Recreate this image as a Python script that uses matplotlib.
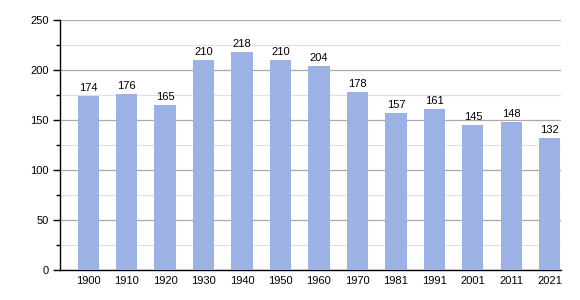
import matplotlib.pyplot as plt
from matplotlib.ticker import MultipleLocator

# Daten aus dem Bild
jahre = ["1900", "1910", "1920", "1930", "1940", "1950", "1960",
         "1970", "1981", "1991", "2001", "2011", "2021"]
einwohner = [174, 176, 165, 210, 218, 210, 204, 178, 157, 161, 145, 148, 132]

plt.rcParams["font.family"] = ["Liberation Sans", "DejaVu Sans"]

fig = plt.figure(figsize=(5.8, 3.0), dpi=100)
ax = fig.add_axes([60 / 580, 30 / 300, 501 / 580, 250 / 300])

x = range(len(jahre))
balken = ax.bar(x, einwohner, width=0.55, color="#9db2e4", zorder=3)

for xi, wert in zip(x, einwohner):
    ax.text(xi, wert + 3, str(wert), ha="center", va="bottom", fontsize=8, zorder=4)

ax.set_xlim(-0.73, 12.29)
ax.set_ylim(0, 250)
ax.set_xticks(list(x))
ax.set_xticklabels(jahre, fontsize=8)
ax.tick_params(axis="x", length=0, pad=4)

ax.yaxis.set_major_locator(MultipleLocator(50))
ax.yaxis.set_minor_locator(MultipleLocator(25))
ax.tick_params(axis="y", which="major", length=5, width=1, labelsize=8, pad=3)
ax.tick_params(axis="y", which="minor", length=3, width=1)

ax.grid(axis="y", which="major", color="#aaaaaa", linewidth=0.9, zorder=0)
ax.grid(axis="y", which="minor", color="#e0e0e0", linewidth=0.9, zorder=0)

for seite in ["top", "right"]:
    ax.spines[seite].set_visible(False)
ax.spines["left"].set_linewidth(1)
ax.spines["bottom"].set_linewidth(1)

fig.savefig("out.png", dpi=100)
